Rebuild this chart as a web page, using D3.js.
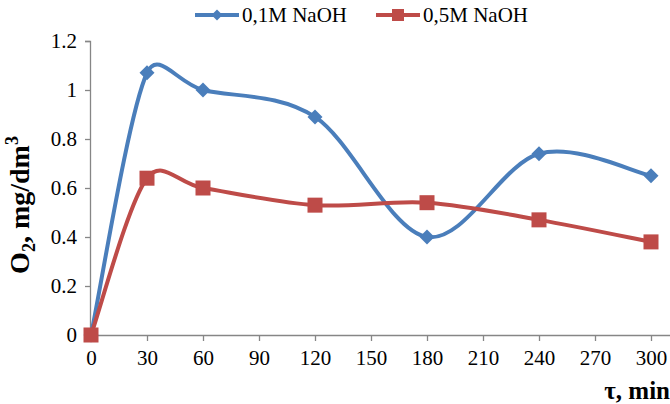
<!DOCTYPE html>
<html>
<head>
<meta charset="utf-8">
<script src="https://cdnjs.cloudflare.com/ajax/libs/d3/7.8.5/d3.min.js"></script>
<style>
  html, body { margin: 0; padding: 0; background: #fff; }
  svg { display: block; }
  text { font-family: "Liberation Serif", "Times New Roman", serif; fill: #000; }
</style>
</head>
<body>
<svg id="chart" width="670" height="404"></svg>
<script>
// Time points (min) and dissolved oxygen (mg/dm3) for each NaOH concentration
const times = [0, 30, 60, 120, 180, 240, 300];
const naoh01 = [0, 1.07, 1.00, 0.89, 0.40, 0.74, 0.65];
const naoh05 = [0, 0.64, 0.60, 0.53, 0.54, 0.47, 0.38];
const seriesNames = ["0,1M NaOH", "0,5M NaOH"];
const xTicks = [0, 30, 60, 90, 120, 150, 180, 210, 240, 270, 300];
const yTicks = [0, 0.2, 0.4, 0.6, 0.8, 1.0, 1.2];

const blue = "#4a7ebb";
const red = "#be4b48";
const axisColor = "#868686";

const svg = d3.select("#chart");

const x0 = 91, x300 = 651, xEnd = 670;
const x = d3.scaleLinear()
  .domain([0, 300 * (xEnd - x0) / (x300 - x0)])
  .range([x0, xEnd]);
const y = d3.scaleLinear().domain([0, 1.2]).range([335, 41]);

// Y axis
const yAxis = svg.append("g")
  .attr("transform", "translate(90,0)")
  .call(d3.axisLeft(y).tickValues(yTicks).tickSize(5).tickPadding(8)
    .tickFormat(d => d3.format("")(+d.toFixed(1))));
yAxis.select(".domain").attr("stroke", axisColor).attr("stroke-width", 1.3);
yAxis.selectAll(".tick line").attr("stroke", axisColor).attr("stroke-width", 1.3);
yAxis.selectAll(".tick text")
  .attr("font-size", 21).attr("font-family", "Liberation Serif").attr("fill", "#000");

// X axis
const xAxis = svg.append("g")
  .attr("transform", "translate(0,335)")
  .call(d3.axisBottom(x).tickValues(xTicks).tickSize(6).tickSizeOuter(0).tickPadding(9));
xAxis.select(".domain").attr("stroke", axisColor).attr("stroke-width", 1.3);
xAxis.selectAll(".tick line").attr("stroke", axisColor).attr("stroke-width", 1.3);
xAxis.selectAll(".tick text")
  .attr("font-size", 21).attr("font-family", "Liberation Serif").attr("fill", "#000");

// Axis titles
svg.append("text")
  .attr("x", 670).attr("y", 399)
  .attr("text-anchor", "end")
  .attr("font-size", 25).attr("font-weight", "bold")
  .text("τ, min");

const yTitle = svg.append("text")
  .attr("transform", "translate(29,205) rotate(-90)")
  .attr("text-anchor", "middle")
  .attr("font-size", 28).attr("font-weight", "bold");
yTitle.append("tspan").text("O");
yTitle.append("tspan").attr("font-size", 18).attr("dy", 6).text("2");
yTitle.append("tspan").attr("dy", -6).text(", mg/dm");
yTitle.append("tspan").attr("font-size", 18).attr("dy", -11).text("3");

// Smoothed line: cubic Bézier segments whose handles follow the neighbouring
// points (1/6 of the chord), shortened on short segments to limit overshoot.
function smoothPath(pts) {
  const p = d3.path();
  const n = pts.length;
  const dist = (a, b) => Math.hypot(b[0] - a[0], b[1] - a[1]);
  const handle = (prev, next, segLen) => {
    let hx = (next[0] - prev[0]) / 6, hy = (next[1] - prev[1]) / 6;
    const len = Math.hypot(hx, hy), cap = 0.45 * segLen;
    if (len > cap && len > 0) { hx *= cap / len; hy *= cap / len; }
    return [hx, hy];
  };
  p.moveTo(pts[0][0], pts[0][1]);
  for (let i = 0; i < n - 1; i++) {
    const a = pts[i], b = pts[i + 1];
    const prev = pts[Math.max(0, i - 1)], next = pts[Math.min(n - 1, i + 2)];
    const d = dist(a, b);
    const h1 = handle(prev, b, d), h2 = handle(a, next, d);
    p.bezierCurveTo(a[0] + h1[0], a[1] + h1[1], b[0] - h2[0], b[1] - h2[1], b[0], b[1]);
  }
  return p.toString();
}

const diamond = s => `M0,${-s}L${s},0L0,${s}L${-s},0Z`;

const series = [
  { name: seriesNames[0], values: naoh01, color: blue, marker: "diamond" },
  { name: seriesNames[1], values: naoh05, color: red, marker: "square" }
];

series.forEach(s => {
  const pts = times.map((t, i) => [x(t), y(s.values[i])]);
  svg.append("path")
    .attr("d", smoothPath(pts))
    .attr("fill", "none")
    .attr("stroke", s.color)
    .attr("stroke-width", 4)
    .attr("stroke-linejoin", "round");
  const g = svg.append("g");
  pts.forEach(p => {
    if (s.marker === "diamond") {
      g.append("path")
        .attr("transform", `translate(${p[0]},${p[1]})`)
        .attr("d", diamond(7.5))
        .attr("fill", s.color);
    } else {
      g.append("rect")
        .attr("x", p[0] - 7.5).attr("y", p[1] - 7.5)
        .attr("width", 15).attr("height", 15)
        .attr("fill", s.color);
    }
  });
});

// Legend
const legendItems = [
  { lx: 195, tx: 242, s: series[0] },
  { lx: 376, tx: 423, s: series[1] }
];
legendItems.forEach(it => {
  const g = svg.append("g");
  g.append("line")
    .attr("x1", it.lx).attr("x2", it.lx + 44)
    .attr("y1", 15).attr("y2", 15)
    .attr("stroke", it.s.color).attr("stroke-width", 4);
  const cx = it.lx + 22;
  if (it.s.marker === "diamond") {
    g.append("path").attr("transform", `translate(${cx},15)`)
      .attr("d", diamond(5.5)).attr("fill", it.s.color);
  } else {
    g.append("rect").attr("x", cx - 6).attr("y", 9)
      .attr("width", 12).attr("height", 12).attr("fill", it.s.color);
  }
  g.append("text")
    .attr("x", it.tx).attr("y", 22)
    .attr("font-size", 21)
    .text(it.s.name);
});
</script>
</body>
</html>
